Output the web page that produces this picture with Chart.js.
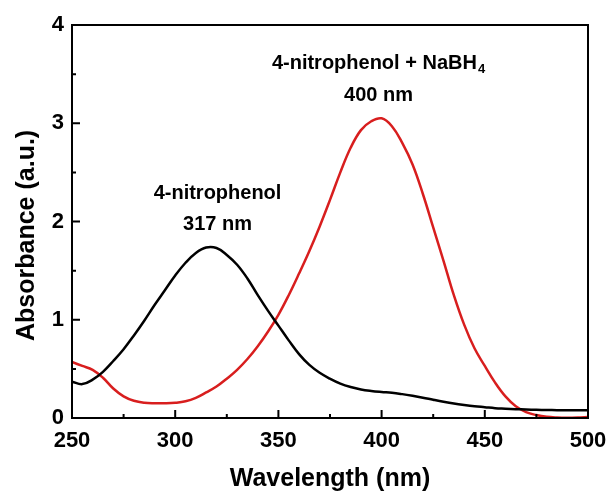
<!DOCTYPE html>
<html lang="en">
<head>
  <meta charset="UTF-8">
  <title>UV-vis absorbance</title>
  <style>
    body {
      margin: 0;
      background-color: #ffffff;
    }
    #chart-box {
      width: 613px;
      height: 497px;
    }
  </style>
</head>
<body>
  <div id="chart-box">
    <canvas id="uv-chart" width="613" height="497"></canvas>
  </div>

  <script src="https://cdn.jsdelivr.net/npm/chart.js"></script>
  <script>
    // wavelength grid (nm), every 5 nm
    const wavelengths = [250, 255, 260, 265, 270, 275, 280, 285, 290, 295,
      300, 305, 310, 315, 320, 325, 330, 335, 340, 345,
      350, 355, 360, 365, 370, 375, 380, 385, 390, 395,
      400, 405, 410, 415, 420, 425, 430, 435, 440, 445,
      450, 455, 460, 465, 470, 475, 480, 485, 490, 495, 500];

    // 4-nitrophenol (black)
    const nitrophenol = [0.37, 0.345, 0.39, 0.47, 0.58, 0.70, 0.84, 0.99, 1.15, 1.30,
      1.45, 1.58, 1.68, 1.735, 1.73, 1.66, 1.56, 1.42, 1.25, 1.09,
      0.94, 0.79, 0.65, 0.54, 0.46, 0.40, 0.35, 0.315, 0.29, 0.275,
      0.265, 0.257, 0.243, 0.226, 0.207, 0.186, 0.166, 0.148, 0.133, 0.12,
      0.11, 0.10, 0.095, 0.09, 0.086, 0.083, 0.081, 0.08, 0.079, 0.078, 0.078];

    // 4-nitrophenol + NaBH4 (red)
    const withNaBH4 = [0.57, 0.53, 0.49, 0.41, 0.30, 0.22, 0.175, 0.155, 0.15, 0.15,
      0.155, 0.17, 0.205, 0.26, 0.32, 0.40, 0.49, 0.60, 0.73, 0.88,
      1.05, 1.25, 1.47, 1.70, 1.95, 2.22, 2.50, 2.75, 2.93, 3.02,
      3.05, 2.97, 2.80, 2.58, 2.28, 1.94, 1.60, 1.25, 0.95, 0.71,
      0.53, 0.36, 0.22, 0.12, 0.06, 0.03, 0.012, 0.005, 0.003, 0.005, 0.01];

    const xTicks = [250, 300, 350, 400, 450, 500];
    const yTicks = [0, 1, 2, 3, 4];
    const xMinorTicks = [275, 325, 375, 425, 475];
    const yMinorTicks = [0.5, 1.5, 2.5, 3.5];

    const peakLabels = [
      { lines: ['4-nitrophenol', '317 nm'], x: 320.5, y: [2.29, 1.97] },
      { lines: ['4-nitrophenol + NaBH', '400 nm'], sub: '4', x: 398.5, y: [3.61, 3.28] }
    ];

    const toPoints = (xs, ys) => xs.map((x, i) => ({ x: x, y: ys[i] }));

    // box around the plot plus inward ticks
    const frameTicks = {
      id: 'frameTicks',
      afterDraw(chart) {
        const { ctx, chartArea: a, scales: { x, y } } = chart;
        ctx.save();
        ctx.strokeStyle = '#000';
        ctx.lineWidth = 2;
        ctx.strokeRect(a.left, a.top, a.right - a.left, a.bottom - a.top);
        ctx.beginPath();
        xTicks.forEach(v => {
          const px = x.getPixelForValue(v);
          ctx.moveTo(px, a.bottom); ctx.lineTo(px, a.bottom - 8);
        });
        xMinorTicks.forEach(v => {
          const px = x.getPixelForValue(v);
          ctx.moveTo(px, a.bottom); ctx.lineTo(px, a.bottom - 4);
        });
        yTicks.forEach(v => {
          const py = y.getPixelForValue(v);
          ctx.moveTo(a.left, py); ctx.lineTo(a.left + 8, py);
        });
        yMinorTicks.forEach(v => {
          const py = y.getPixelForValue(v);
          ctx.moveTo(a.left, py); ctx.lineTo(a.left + 4, py);
        });
        ctx.stroke();
        ctx.restore();
      }
    };

    // peak annotations
    const peakText = {
      id: 'peakText',
      afterDatasetsDraw(chart) {
        const { ctx, scales: { x, y } } = chart;
        ctx.save();
        ctx.fillStyle = '#000';
        ctx.textBaseline = 'middle';
        peakLabels.forEach(lab => {
          const cx = x.getPixelForValue(lab.x);
          lab.lines.forEach((txt, i) => {
            const py = y.getPixelForValue(lab.y[i]);
            ctx.font = 'bold 20px Arial, "Liberation Sans", sans-serif';
            if (i === 0 && lab.sub) {
              const w = ctx.measureText(txt).width;
              ctx.font = 'bold 13px Arial, "Liberation Sans", sans-serif';
              const ws = ctx.measureText(lab.sub).width;
              const left = cx - (w + ws + 1) / 2;
              ctx.textAlign = 'left';
              ctx.fillText(lab.sub, left + w + 1, py + 6);
              ctx.font = 'bold 20px Arial, "Liberation Sans", sans-serif';
              ctx.fillText(txt, left, py);
            } else {
              ctx.textAlign = 'center';
              ctx.fillText(txt, cx, py);
            }
          });
        });
        ctx.restore();
      }
    };

    const tickFont = { family: 'Arial, "Liberation Sans", sans-serif', size: 22, weight: 'bold' };
    const titleFont = { family: 'Arial, "Liberation Sans", sans-serif', size: 25, weight: 'bold' };

    new Chart(document.getElementById('uv-chart').getContext('2d'), {
      type: 'line',
      data: {
        datasets: [{
          label: '4-nitrophenol',
          data: toPoints(wavelengths, nitrophenol),
          borderColor: '#000000',
          borderWidth: 2.5,
          pointRadius: 0,
          tension: 0.4
        }, {
          label: '4-nitrophenol + NaBH4',
          data: toPoints(wavelengths, withNaBH4),
          borderColor: '#d81e1e',
          borderWidth: 2.5,
          pointRadius: 0,
          tension: 0.4
        }]
      },
      options: {
        responsive: false,
        devicePixelRatio: 1,
        animation: false,
        layout: { padding: { top: 25, right: 25, left: 0, bottom: 0 } },
        plugins: {
          legend: { display: false },
          tooltip: { enabled: false }
        },
        scales: {
          x: {
            type: 'linear',
            min: 250,
            max: 500,
            afterBuildTicks: scale => { scale.ticks = xTicks.map(v => ({ value: v })); },
            afterFit: scale => {
              scale.height = 79;
              scale.paddingLeft = 0;
              scale.paddingRight = 0;
            },
            grid: { display: false, drawTicks: false },
            border: { display: false },
            ticks: { color: '#000', font: tickFont, padding: 10, maxRotation: 0, autoSkip: false },
            title: {
              display: true,
              text: 'Wavelength (nm)',
              color: '#000',
              font: titleFont,
              padding: { top: 0, bottom: 3 }
            }
          },
          y: {
            min: 0,
            max: 4,
            afterBuildTicks: scale => { scale.ticks = yTicks.map(v => ({ value: v })); },
            afterFit: scale => { scale.width = 72; },
            grid: { display: false, drawTicks: false },
            border: { display: false },
            ticks: { color: '#000', font: tickFont, padding: 8 },
            title: {
              display: true,
              // trailing spaces push the title a little below the centre, as in the original
              text: 'Absorbance (a.u.)    ',
              color: '#000',
              font: titleFont,
              padding: { top: 12, bottom: 0 }
            }
          }
        }
      },
      plugins: [frameTicks, peakText]
    });
  </script>
</body>
</html>
